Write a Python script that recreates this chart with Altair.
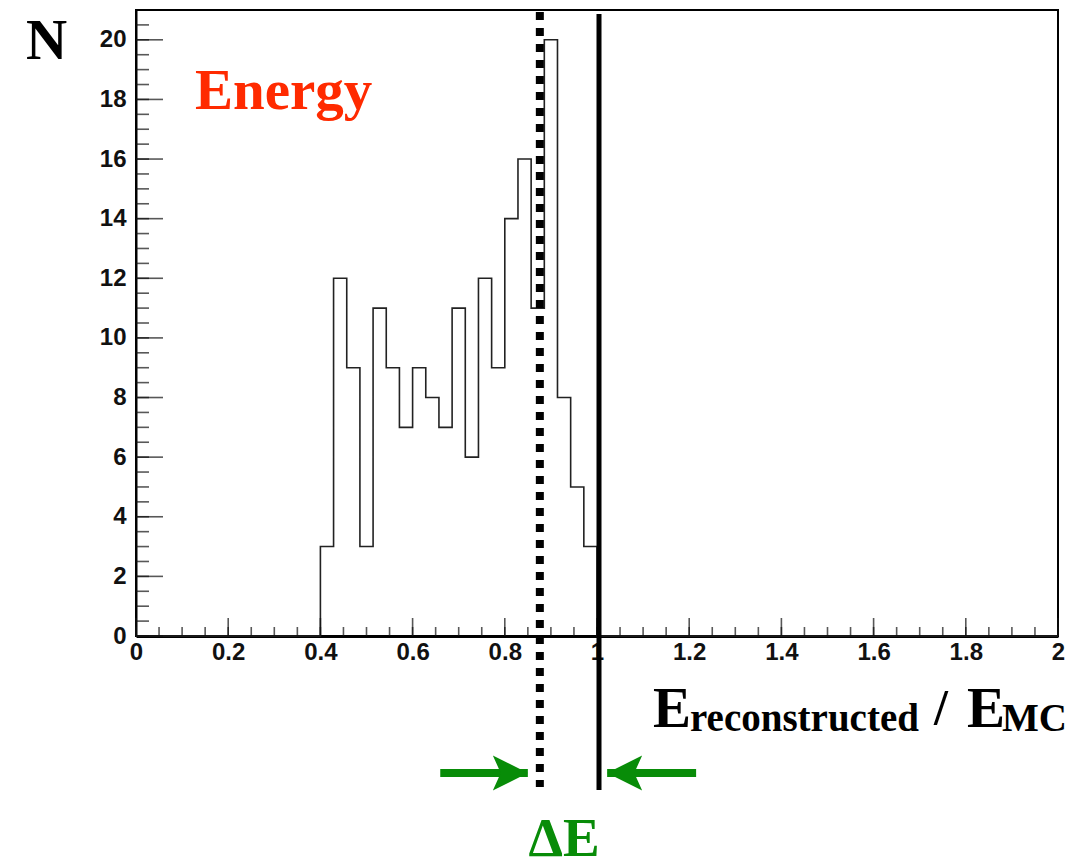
import altair as alt
import pandas as pd

# ---- histogram: 70 equal bins over [0, 2]; bins 14..34 (0.4 to 1.0) are filled
n_bins = 70
x_min, x_max = 0.0, 2.0
first_filled_bin = 14
bin_counts = [3, 12, 9, 3, 11, 9, 7, 9, 8, 7, 11, 6, 12, 9, 14, 16, 11, 20, 8, 5, 3]

# ---- marker lines
peak_line = [0.876]   # dotted line
unity_line = [1.0]    # solid line at E_rec / E_MC = 1

# ---- green arrows (tail -> tip, in units of E_rec / E_MC)
arrow_tail = [0.66, 1.215]
arrow_tip = [0.850, 1.022]

# ---- axis ticks and labels
x_major = [0, 0.2, 0.4, 0.6, 0.8, 1.0, 1.2, 1.4, 1.6, 1.8, 2.0]
x_minor = [round(i * 0.05, 2) for i in range(41)]
y_major = [0, 2, 4, 6, 8, 10, 12, 14, 16, 18, 20]
y_minor = [i * 0.5 for i in range(42)]

y_title = ["N"]
tag_text = ["Energy"]
delta_text = ["ΔE"]
x_title_main = ["E", "E"]
x_title_sub = ["reconstructed", "MC"]
x_title_sep = ["/"]

W, H = 922, 626
GREEN = "#088c08"
SERIF = "Liberation Serif"
SANS = "Liberation Sans"

x_scale = alt.Scale(domain=[x_min, x_max], nice=False, zero=False)
y_scale = alt.Scale(domain=[0, 21], nice=False, zero=False)
x_axis = alt.Axis(values=x_major, format="~g", ticks=False, grid=False,
                  domainColor="black", domainWidth=3, labelPadding=4,
                  labelFont=SANS, labelFontWeight="bold", labelFontSize=24,
                  labelColor="#111", labelFlush=False, title=None)
y_axis = alt.Axis(values=y_major, format="d", ticks=False, grid=False,
                  domainColor="black", domainWidth=2, labelPadding=10,
                  labelFont=SANS, labelFontWeight="bold", labelFontSize=24,
                  labelColor="#111", title=None)


def X(field, **kw):
    return alt.X(f"{field}:Q", scale=x_scale, axis=x_axis, **kw)


def Y(field, **kw):
    return alt.Y(f"{field}:Q", scale=y_scale, axis=y_axis, **kw)


# step outline of the histogram
edges = [x_min + i * (x_max - x_min) / n_bins for i in range(n_bins + 1)]
counts_full = [0] * n_bins
counts_full[first_filled_bin:first_filled_bin + len(bin_counts)] = bin_counts
hist_df = pd.DataFrame({"x": edges, "n": counts_full + [0]})

hist = alt.Chart(hist_df).mark_line(
    interpolate="step-after", stroke="#222", strokeWidth=1.6
).encode(x=X("x"), y=Y("n"))

# inward-pointing ticks
def xticks(vals, length):
    return alt.Chart(pd.DataFrame({"x": vals})).mark_tick(
        orient="vertical", size=length, thickness=1.6, color="#111"
    ).encode(x=X("x"), y=alt.value(H - length / 2))


def yticks(vals, length):
    return alt.Chart(pd.DataFrame({"y": vals})).mark_tick(
        orient="horizontal", size=length, thickness=1.6, color="#111"
    ).encode(y=Y("y"), x=alt.value(length / 2))


ticks = [xticks(x_minor, 9), xticks(x_major, 18), yticks(y_minor, 13), yticks(y_major, 27)]

dotted = alt.Chart(pd.DataFrame({"x": peak_line})).mark_rule(
    color="black", strokeWidth=8, strokeDash=[8, 8]
).encode(x=X("x"), y=alt.value(2), y2=alt.value(777))

solid = alt.Chart(pd.DataFrame({"x": unity_line})).mark_rule(
    color="black", strokeWidth=5, xOffset=2
).encode(x=X("x"), y=alt.value(4), y2=alt.value(780))

arrow_df = pd.DataFrame({"tail": arrow_tail, "tip": arrow_tip,
                         "angle": [0, 180]})
shafts = alt.Chart(arrow_df).mark_rule(color=GREEN, strokeWidth=8).encode(
    x=X("tail"), x2="tip:Q", y=alt.value(763)
)
# barbed arrowhead with its tip at the symbol origin
head_path = "M0,0L-2,-1L-1.55,0L-2,1Z"
heads = alt.Chart(arrow_df).mark_point(
    shape=head_path, filled=True, fill=GREEN, stroke=None, opacity=1, size=1225
).encode(x=X("tip"), y=alt.value(763), angle=alt.Angle("angle:Q", scale=None))


def label(texts, xs, ys, size, color="black", align="left"):
    df = pd.DataFrame({"t": texts, "px": xs, "py": ys})
    return alt.Chart(df).mark_text(
        font=SERIF, fontWeight="bold", fontSize=size, color=color,
        align=align, baseline="alphabetic"
    ).encode(text="t:N", x=alt.X("px:Q", scale=None), y=alt.Y("py:Q", scale=None))


texts = [
    label(y_title, [-110], [49], 57),
    label(tag_text, [59], [99], 57, color="#ff2a00"),
    label(x_title_main, [517, 831], [717, 717], 57),
    label(x_title_sub, [554, 866], [721, 721], 39),
    label(x_title_sep, [805], [714], 50, align="center"),
    label(delta_text, [428], [846], 55, color=GREEN, align="center"),
]

chart = alt.layer(
    hist, *ticks, dotted, solid, shafts, heads, *texts
).properties(
    width=W, height=H,
    autosize=alt.AutoSizeParams(type="none"),
    padding={"left": 136, "top": 10, "right": 18, "bottom": 232},
    background="white",
).configure_view(stroke="black", strokeWidth=2)

chart.save("out.html", embed_options={"renderer": "svg", "actions": False})
